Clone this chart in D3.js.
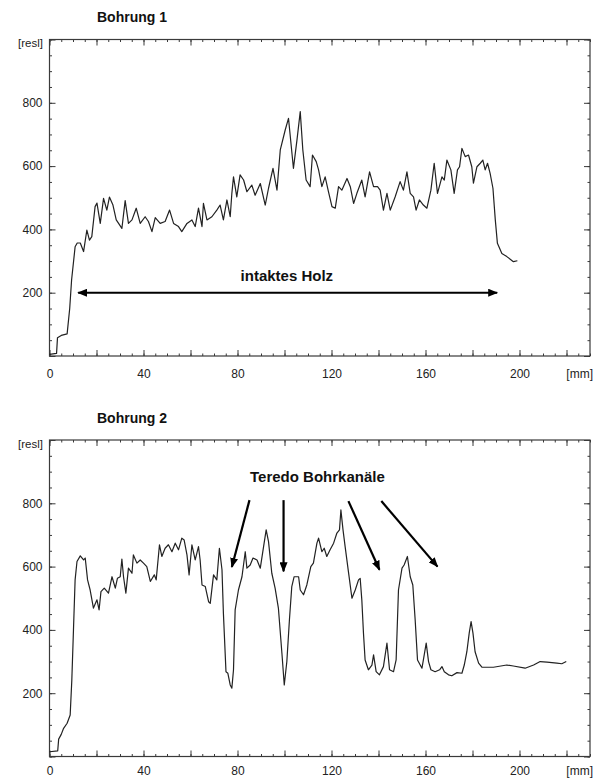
<!DOCTYPE html>
<html>
<head>
<meta charset="utf-8">
<script src="https://cdn.jsdelivr.net/npm/d3@7"></script>
<style>
  body { margin: 0; background: #fff; }
  svg { display: block; font-family: "Liberation Sans", Arial, sans-serif; }
</style>
</head>
<body>
<svg id="chart" width="595" height="778"></svg>
<script>
// depth [mm], drilling resistance [resl]
const bohrung1 = [
  [0,5],[3,8],[3.4,58],[5,65],[7.5,70],[8.6,150],[9.4,240],[10.9,345],[11.8,357],[13.1,357],
  [14.5,330],[15.9,398],[17.0,366],[18.0,377],[19.4,472],[20.2,483],[21.6,419],[23.0,498],[24.4,461],[25.5,502],
  [27.0,477],[28.4,430],[29.4,419],[30.8,403],[32.2,491],[33.6,419],[35.1,430],[36.9,467],[38.6,419],[40.7,440],
  [42.1,425],[43.6,393],[45.0,437],[47.1,419],[49.2,425],[51.1,461],[52.8,419],[54.9,409],[56.3,393],[58.5,419],
  [60.6,430],[62.0,409],[63.4,467],[64.9,409],[65.5,482],[67.0,430],[69.1,440],[71.2,461],[72.6,477],[74.0,430],
  [75.5,493],[76.9,440],[77.6,514],[78.3,566],[79.7,503],[81.1,572],[82.6,556],[84.0,519],[86.1,540],[87.5,508],
  [89.7,545],[91.8,477],[93.2,530],[95.1,593],[96.8,524],[98.2,651],[100.3,714],[101.7,751],[103.8,593],[105.3,682],
  [106.7,772],[107.8,651],[109.2,556],[110.9,535],[111.9,635],[113.5,614],[114.5,588],[115.9,535],[117.3,566],[118.7,519],
  [120.2,472],[121.6,467],[123.0,535],[124.4,524],[126.6,561],[128.0,535],[129.4,482],[130.8,514],[132.9,556],[134.3,503],
  [136.2,582],[137.9,535],[139.6,535],[140.7,524],[142.1,461],[143.6,514],[145.0,461],[147.1,503],[149.2,551],[150.6,524],
  [152.1,582],[153.5,514],[154.9,503],[156.0,461],[157.4,493],[159.1,477],[160.6,467],[162.3,524],[163.7,609],[165.1,514],
  [167.0,566],[168.0,556],[169.1,619],[170.8,588],[172.2,514],[173.6,588],[174.5,598],[175.5,656],[176.9,630],[178.3,635],
  [179.7,598],[180.4,546],[181.9,598],[183.3,609],[184.4,619],[185.4,588],[186.4,609],[187.5,577],[188.7,530],[189.7,430],
  [190.6,356],[192.5,324],[194.6,314],[197.4,298],[199.1,301]
];

const bohrung2 = [
  [0,15],[3.5,18],[3.9,55],[5.0,70],[6.0,89],[7.5,105],[8.8,131],[9.5,242],[10.2,400],[10.9,558],
  [11.7,616],[13.1,634],[14.5,621],[15.2,627],[16.2,558],[17.3,526],[18.7,469],[20.2,495],[21.1,463],[21.9,521],
  [23.3,532],[25.1,516],[26.6,568],[28.0,532],[28.9,563],[30.1,568],[30.8,624],[31.5,568],[32.5,516],[33.6,595],
  [35.1,579],[35.7,637],[37.2,611],[38.6,621],[40.0,611],[41.4,600],[42.9,553],[44.6,574],[45.4,558],[46.8,669],
  [47.8,632],[49.2,658],[50.6,669],[52.1,647],[53.5,674],[54.9,653],[56.3,690],[57.3,684],[58.5,637],[59.4,574],
  [60.6,669],[62.0,621],[63.4,663],[64.1,621],[64.9,542],[66.3,537],[67.7,489],[68.4,484],[69.8,574],[71.2,558],
  [72.3,658],[73.4,590],[74.0,453],[75.1,268],[75.9,263],[76.9,226],[77.6,216],[78.3,274],[79.0,463],[80.4,526],
  [81.9,568],[83.3,647],[84.0,595],[85.4,605],[86.6,627],[88.3,621],[89.7,595],[91.1,663],[92.2,716],[93.2,679],
  [94.6,579],[96.0,532],[97.4,469],[98.9,326],[99.9,226],[101.0,300],[102.1,432],[103.1,537],[104.1,568],[106.0,568],
  [106.7,526],[108.1,511],[109.5,542],[111.2,600],[112.3,611],[113.8,674],[114.5,690],[115.9,647],[116.9,658],[118.0,632],
  [119.4,653],[120.9,674],[122.3,706],[123.4,716],[124.0,779],[124.9,716],[125.8,663],[127.2,584],[128.7,500],[130.1,526],
  [131.5,558],[132.2,563],[132.9,495],[133.6,390],[134.3,305],[135.7,274],[137.2,289],[137.9,321],[139.0,268],[140.4,258],
  [142.1,284],[143.6,358],[144.7,274],[146.4,268],[147.5,305],[148.5,526],[150.0,595],[150.9,605],[152.3,632],[153.5,568],
  [154.6,542],[155.6,432],[156.6,305],[158.5,279],[159.1,305],[160.3,358],[161.3,300],[162.3,274],[164.1,268],[166.0,274],
  [167.0,284],[168.0,268],[169.8,258],[171.2,255],[173.4,265],[175.5,263],[176.5,289],[177.6,331],[178.6,390],[179.4,426],
  [180.2,390],[181.1,331],[182.6,295],[184.0,282],[188.9,282],[194.6,289],[197.4,286],[202.4,279],[206.0,289],[208.8,300],
  [211.7,298],[215.9,295],[218.0,293],[219.9,300]
];

// ticks
const xMajor = d3.range(0, 231, 20);
const xMinor = d3.range(0, 231, 5);
const xLabels = [0, 40, 80, 120, 160, 200];
const yMajor = d3.range(0, 1001, 200);
const yMinor = d3.range(0, 1001, 50);
const yLabels = [200, 400, 600, 800];

// annotations (in data units)
const holzSpan = [12.2, 190.5, 200];          // from mm, to mm, at resl
const holzLabel = [101, 250, "intaktes Holz"];
const teredoLabel = [114, 880, "Teredo Bohrkanäle"];
const teredoArrows = [
  [[85.1, 810], [77.6, 599]],
  [[99.6, 810], [99.6, 585]],
  [[127.2, 807], [140.4, 590]],
  [[141.2, 807], [165.1, 600]]
];

const svg = d3.select("#chart");
const left = 49.5, right = 590;
const ink = "#222", frameColor = "#3a3a3a";

// arrow head
svg.append("defs").append("marker")
  .attr("id", "head")
  .attr("viewBox", "0 0 10 8")
  .attr("refX", 9).attr("refY", 4)
  .attr("markerWidth", 10).attr("markerHeight", 8)
  .attr("markerUnits", "userSpaceOnUse")
  .attr("orient", "auto-start-reverse")
  .append("path").attr("d", "M0,0 L10,4 L0,8 Z").attr("fill", "#000");

function drawPanel(title, data, top, bottom, labelPad) {
  const x = d3.scaleLinear().domain([0, 230]).range([left, right]);
  const y = d3.scaleLinear().domain([0, 1000]).range([bottom, top]);
  const g = svg.append("g");

  // title
  g.append("text").attr("x", 97).attr("y", top - 17.5)
    .attr("font-size", 14).attr("font-weight", "bold").attr("fill", "#111")
    .text(title);

  // unit label
  g.append("text").attr("x", 43).attr("y", top + 7.5)
    .attr("text-anchor", "end").attr("font-size", 11.5).attr("fill", ink)
    .text("[resl]");

  // inward ticks on all four sides
  const sides = [
    [d3.axisBottom(x), `translate(0,${bottom})`, xMajor, xMinor, d => xLabels.includes(d) ? d : ""],
    [d3.axisTop(x), `translate(0,${top})`, xMajor, xMinor, ""],
    [d3.axisLeft(y), `translate(${left},0)`, yMajor, yMinor, d => yLabels.includes(d) ? d : ""],
    [d3.axisRight(y), `translate(${right},0)`, yMajor, yMinor, ""]
  ];
  sides.forEach(([axis, tr, major, minor, fmt], i) => {
    g.append("g").attr("transform", tr)
      .call(axis.tickValues(minor).tickSize(-2.5).tickFormat(""));
    const a = g.append("g").attr("transform", tr)
      .call(axis.tickValues(major).tickSize(-6).tickFormat(fmt).tickPadding(i === 0 ? labelPad : 7));
    a.selectAll("text").attr("font-size", 12).attr("fill", ink)
      .attr("font-family", '"Liberation Sans", Arial, sans-serif');
  });
  g.selectAll(".domain").remove();
  g.selectAll(".tick line").attr("stroke", frameColor);

  // mm label
  g.append("text").attr("x", 593).attr("y", bottom + labelPad + 8.5)
    .attr("text-anchor", "end").attr("font-size", 12).attr("fill", ink)
    .text("[mm]");

  // frame
  g.append("rect")
    .attr("x", left).attr("y", top)
    .attr("width", right - left).attr("height", bottom - top)
    .attr("fill", "none").attr("stroke", frameColor).attr("stroke-width", 1.2);

  // profile
  g.append("path").datum(data)
    .attr("d", d3.line().x(d => x(d[0])).y(d => y(d[1])))
    .attr("fill", "none").attr("stroke", ink).attr("stroke-width", 1.2)
    .attr("stroke-linejoin", "round");

  return { g: g, x: x, y: y };
}

const p1 = drawPanel("Bohrung 1", bohrung1, 39.5, 356, 13);
const p2 = drawPanel("Bohrung 2", bohrung2, 440, 756.5, 9.5);

// Bohrung 1: intact wood span
p1.g.append("line")
  .attr("x1", p1.x(holzSpan[0])).attr("x2", p1.x(holzSpan[1]))
  .attr("y1", p1.y(holzSpan[2])).attr("y2", p1.y(holzSpan[2]))
  .attr("stroke", "#000").attr("stroke-width", 2)
  .attr("marker-start", "url(#head)").attr("marker-end", "url(#head)");
p1.g.append("text")
  .attr("x", p1.x(holzLabel[0])).attr("y", p1.y(holzLabel[1]))
  .attr("text-anchor", "middle").attr("dominant-baseline", "middle")
  .attr("font-size", 15).attr("font-weight", "bold").attr("fill", "#111")
  .text(holzLabel[2]);

// Bohrung 2: teredo channels
p2.g.append("text")
  .attr("x", p2.x(teredoLabel[0])).attr("y", p2.y(teredoLabel[1]))
  .attr("text-anchor", "middle").attr("dominant-baseline", "middle")
  .attr("font-size", 15).attr("font-weight", "bold").attr("fill", "#111")
  .text(teredoLabel[2]);
p2.g.selectAll(".teredo").data(teredoArrows).enter()
  .append("line").attr("class", "teredo")
  .attr("x1", d => p2.x(d[0][0])).attr("y1", d => p2.y(d[0][1]))
  .attr("x2", d => p2.x(d[1][0])).attr("y2", d => p2.y(d[1][1]))
  .attr("stroke", "#000").attr("stroke-width", 2.2)
  .attr("marker-end", "url(#head)");
</script>
</body>
</html>
